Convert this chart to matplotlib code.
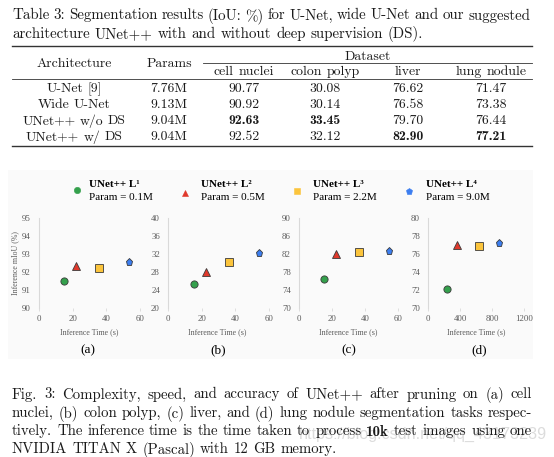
import matplotlib
matplotlib.use('Agg')
import matplotlib.pyplot as plt
from matplotlib.patches import Rectangle

plt.rcParams['font.family'] = ['Liberation Serif', 'DejaVu Serif']

# ---- table data
table_title = ["Table 3: Segmentation results (IoU: %) for U-Net, wide U-Net and our suggested",
               "architecture UNet++ with and without deep supervision (DS)."]
archs = ["U-Net [9]", "Wide U-Net", "UNet++ w/o DS", "UNet++ w/ DS"]
params = ["7.76M", "9.13M", "9.04M", "9.04M"]
datasets = ["cell nuclei", "colon polyp", "liver", "lung nodule"]
iou = [[90.77, 30.08, 76.62, 71.47],
       [90.92, 30.14, 76.58, 73.38],
       [92.63, 33.45, 79.70, 76.44],
       [92.52, 32.12, 82.90, 77.21]]

# ---- figure data (UNet++ L1..L4)
models = ["UNet++ L\u00b9", "UNet++ L\u00b2", "UNet++ L\u00b3", "UNet++ L\u2074"]
model_params = ["Param = 0.1M", "Param = 0.5M", "Param = 2.2M", "Param = 9.0M"]
time_a = [14.9, 22.0, 35.4, 53.6]
miou_a = [91.5, 92.32, 92.19, 92.54]
time_b = [15.5, 22.6, 35.9, 54.2]
miou_b = [25.3, 27.9, 30.2, 32.1]
time_c = [15.0, 22.4, 36.0, 54.4]
miou_c = [76.4, 81.9, 82.4, 82.7]
time_d = [231, 357, 638, 886]
miou_d = [72.1, 77.0, 76.9, 77.2]
panel_names = ["(a)", "(b)", "(c)", "(d)"]

caption = ["Fig. 3: Complexity, speed, and accuracy of UNet++ after pruning on (a) cell",
           "nuclei, (b) colon polyp, (c) liver, and (d) lung nodule segmentation tasks respec-",
           "tively. The inference time is the time taken to process *10k test images using one",
           "NVIDIA TITAN X (Pascal) with 12 GB memory."]
watermark = "https://blog.csdn.net/qq_43173239"

colors = ['#34a04c', '#e0382b', '#fbc43c', '#3c7ef0']
markers = ['o', '^', 's', 'p']
txt = '#1a1a1a'

W, H = 554, 457
fig = plt.figure(figsize=(W / 100, H / 100), dpi=100)
bg = fig.add_axes([0, 0, 1, 1])
bg.set_xlim(0, W)
bg.set_ylim(H, 0)
bg.axis('off')
r = fig.canvas.get_renderer()


def fam(bold):
    return 'cmb10' if bold else 'cmr10'


def split_words(line):
    out = []
    for w in line.split(' '):
        if w.startswith('*'):
            out.append((w[1:], True))
        else:
            out.append((w, False))
    return out


def width_of(s, bold, size):
    t = bg.text(0, 0, s, fontfamily=fam(bold), fontsize=size)
    w = t.get_window_extent(r).width
    t.remove()
    return w


def natural(words, size):
    gap = 0.333 * size * 100 / 72
    return sum(width_of(w, b, size) for w, b in words) + gap * (len(words) - 1)


def put_words(words, x, y, size, justify=None, ha='left'):
    arts = [bg.text(0, y, w, fontfamily=fam(b), fontsize=size, color=txt,
                    va='center_baseline', ha='left', zorder=3) for w, b in words]
    ws = [a.get_window_extent(r).width for a in arts]
    if justify is not None and len(arts) > 1:
        gap = (justify - sum(ws)) / (len(arts) - 1)
    else:
        gap = 0.333 * size * 100 / 72
    total = sum(ws) + gap * (len(arts) - 1)
    if ha == 'center':
        x = x - total / 2
    for a, w in zip(arts, ws):
        a.set_x(x)
        x += w + gap


# ---- table
body_size = 10 * 104 / natural(split_words(archs[2]), 10)
title_size = 10 * 413 / natural(split_words(table_title[1]), 10)
put_words(split_words(table_title[0]), 12, 14, title_size, justify=518)
put_words(split_words(table_title[1]), 12, 32.5, title_size)

bg.plot([12, 531.7], [45.8, 45.8], color='#333333', lw=1.0)
bg.plot([203, 531.7], [62.7, 62.7], color='#333333', lw=0.6)
bg.plot([12, 531.7], [79.2, 79.2], color='#333333', lw=0.6)
bg.plot([12, 531.7], [145.7, 145.7], color='#333333', lw=1.0)

col_x = [74, 169, 243.8, 325, 408, 491]
put_words([("Architecture", False)], col_x[0], 62, body_size, ha='center')
put_words([("Params", False)], col_x[1], 62, body_size, ha='center')
put_words([("Dataset", False)], 367.5, 55.5, body_size, ha='center')
for j, d in enumerate(datasets):
    put_words(split_words(d), col_x[j + 2], 70.5, body_size, ha='center')
best = [max(range(len(iou)), key=lambda i: iou[i][j]) for j in range(len(datasets))]
for i in range(len(archs)):
    y = 87.4 + 16.1 * i
    put_words(split_words(archs[i]), col_x[0], y, body_size, ha='center')
    put_words([(params[i], False)], col_x[1], y, body_size, ha='center')
    for j in range(len(datasets)):
        put_words([("%.2f" % iou[i][j], best[j] == i)], col_x[j + 2], y, body_size, ha='center')

# ---- figure panel
bg.add_patch(Rectangle((8, 170), 525, 189, facecolor='#fafafa', edgecolor='none', zorder=0))

leg_mark = [(76.7, 190), (185, 192.5), (297.3, 191), (409, 191)]
leg_text = [89.3, 201.3, 313.3, 425.7]
for k in range(4):
    bg.plot(leg_mark[k][0], leg_mark[k][1], markers[k], color=colors[k], ms=4.6,
            mec=colors[k], mew=0.4)
    bg.text(leg_text[k], 184.5, models[k], fontsize=8, fontweight='bold', va='center', color='black')
    bg.text(leg_text[k], 197.5, model_params[k], fontsize=8, va='center', color='black')


def px_axes(left, top, right, bottom):
    return fig.add_axes([left / W, 1 - bottom / H, (right - left) / W, (bottom - top) / H])


panels = [
    (time_a, miou_a, (39.3, 148.4), (0, 65), [0, 20, 40, 60], (90, 95), range(90, 96, 1), 88.7, 88),
    (time_b, miou_b, (168.3, 277.4), (0, 65), [0, 20, 40, 60], (20, 40), range(20, 41, 4), 216.7, 218),
    (time_c, miou_c, (299.3, 406.6), (0, 65), [0, 20, 40, 60], (70, 90), range(70, 91, 4), 348.3, 349),
    (time_d, miou_d, (428.3, 528.0), (0, 1250), [0, 400, 800, 1200], (70, 80), range(70, 81, 2), 475.7, 479),
]
for p, (tx, my, (l, rr), xl, xt, yl, yt, xlab_x, name_x) in enumerate(panels):
    ax = px_axes(l, 217.7, rr, 307.7)
    ax.set_facecolor('none')
    for k in range(4):
        ax.plot(tx[k], my[k], markers[k], color=colors[k], ms=5.2, mec='#3a3a3a', mew=0.6,
                clip_on=False)
    ax.set_xlim(*xl)
    ax.set_ylim(*yl)
    ax.set_xticks(xt)
    ax.set_yticks(list(yt))
    for s in ['top', 'right', 'bottom']:
        ax.spines[s].set_visible(False)
    ax.spines['left'].set_color('#d9d9d9')
    ax.spines['left'].set_linewidth(0.8)
    ax.tick_params(axis='y', length=0, pad=6, labelsize=6.3, labelcolor='#595959')
    ax.tick_params(axis='x', length=2, width=0.6, color='#d9d9d9', pad=3.3, labelsize=6.3,
                   labelcolor='#595959')
    bg.text(xlab_x, 331.7, "Inference Time (s)", fontsize=5.7, color='#595959', ha='center', va='center')
    bg.text(name_x, 350, panel_names[p], fontsize=9.5, color='black', ha='center', va='center')

bg.text(15, 263, "Inference mIoU (%)", fontsize=5.7, color='#595959', rotation=90,
        ha='center', va='center')

# ---- caption
cap_size = 10 * 325 / natural(split_words(caption[3]), 10)
cap_y = [393, 411.5, 430, 448]
for i, line in enumerate(caption):
    put_words(split_words(line), 12, cap_y[i], cap_size, justify=520 if i < 3 else None)

# csdn watermark, drawn under the caption text
wt = bg.text(299, 434, watermark, fontfamily='Liberation Sans', fontsize=10, color='#dcdcdc',
             va='center', ha='left', zorder=1)
ww = wt.get_window_extent(r).width
wt.set_fontsize(10 * 247 / ww)

fig.savefig('out.png', dpi=100)
